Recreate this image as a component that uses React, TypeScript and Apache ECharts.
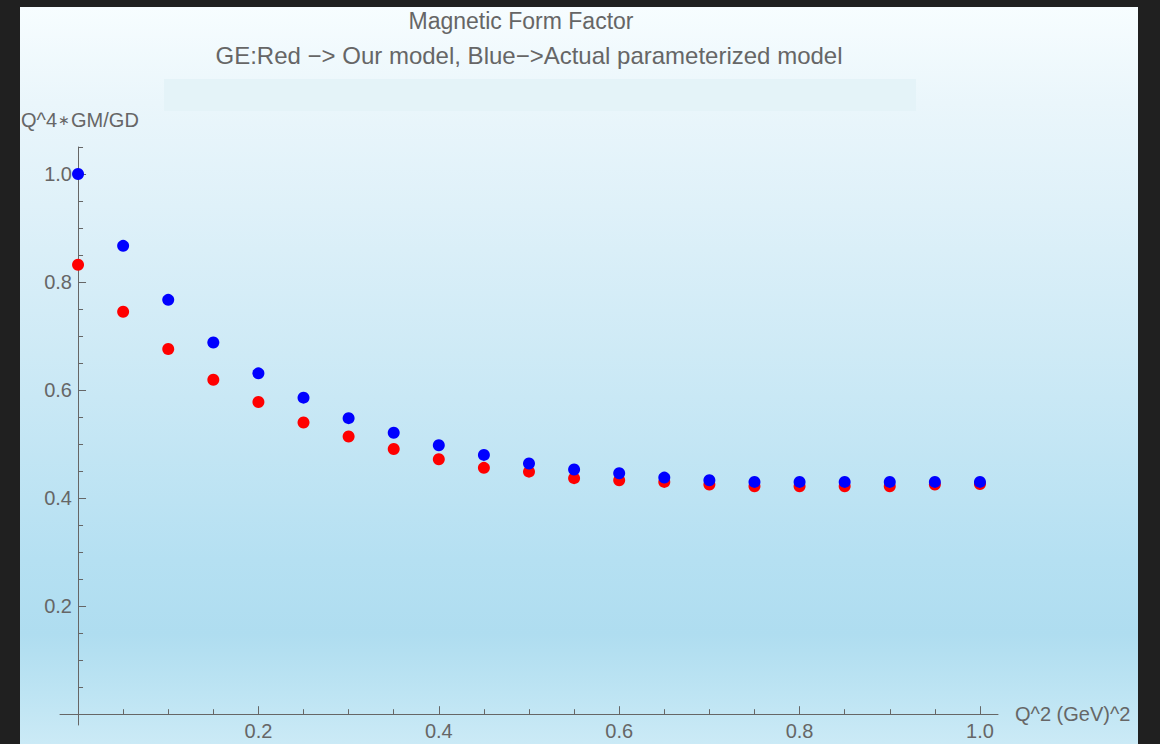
import { useEffect, useRef } from "react";
import * as echarts from "echarts";

const qSquared = [0, 0.05, 0.1, 0.15, 0.2, 0.25, 0.3, 0.35, 0.4, 0.45, 0.5, 0.55, 0.6, 0.65, 0.7, 0.75, 0.8, 0.85, 0.9, 0.95, 1.0];
const ourModel = [0.832, 0.745, 0.676, 0.619, 0.578, 0.540, 0.514, 0.491, 0.472, 0.456, 0.449, 0.437, 0.433, 0.430, 0.425, 0.422, 0.422, 0.422, 0.422, 0.425, 0.426];
const parameterized = [1.0, 0.867, 0.767, 0.688, 0.631, 0.586, 0.548, 0.521, 0.498, 0.480, 0.464, 0.453, 0.446, 0.438, 0.433, 0.430, 0.430, 0.430, 0.430, 0.430, 0.430];

const majorTicks = [0, 0.2, 0.4, 0.6, 0.8, 1.0];
const tickLabels = [0.2, 0.4, 0.6, 0.8, 1.0];
const minorTicksX = [0.05, 0.1, 0.15, 0.25, 0.3, 0.35, 0.45, 0.5, 0.55, 0.65, 0.7, 0.75, 0.85, 0.9, 0.95];
const minorTicksY = [0.05, 0.1, 0.15, 0.25, 0.3, 0.35, 0.45, 0.5, 0.55, 0.65, 0.7, 0.75, 0.85, 0.9, 0.95, 1.05];

const titleLine1 = "Magnetic Form Factor";
const titleLine2 = "GE:Red \u2212> Our model, Blue\u2212>Actual parameterized model";
const yNameParts = ["Q^4", "\u2217", "GM/GD"];
const xName = "Q^2 (GeV)^2";

const FONT = "Liberation Sans, Arial, Helvetica, sans-serif";
const GRAY = "#666666";

export default function App() {
  const ref = useRef<HTMLDivElement>(null);
  useEffect(() => {
    if (!ref.current) return;
    const chart = echarts.init(ref.current, null, { renderer: "svg" });
    const toPairs = (ys: number[]) => qSquared.map((x, i) => [x, ys[i]]);
    const axisCommon = {
      type: "value" as const,
      splitLine: { show: false },
    };
    chart.setOption({
      animation: false,
      backgroundColor: "#202020",
      textStyle: { fontFamily: FONT },
      grid: {
        left: 60,
        right: 162,
        top: 147,
        bottom: 19,
        containLabel: false,
        outerBoundsMode: "none",
      },
      graphic: [
        {
          type: "rect",
          z: -10,
          shape: { x: 20, y: 7, width: 1118, height: 737 },
          style: {
            fill: new echarts.graphic.LinearGradient(0, 0, 0, 1, [
              { offset: 0, color: "#f7fdff" },
              { offset: 0.13, color: "#eaf6fb" },
              { offset: 0.27, color: "#dff1f9" },
              { offset: 0.53, color: "#c9e8f5" },
              { offset: 0.75, color: "#b5e0f2" },
              { offset: 0.85, color: "#afddf0" },
              { offset: 0.93, color: "#bde4f3" },
              { offset: 1, color: "#cbeaf6" },
            ]),
          },
        },
        {
          type: "rect",
          z: -9,
          shape: { x: 164, y: 79, width: 752, height: 32 },
          style: { fill: "#e4f3f8" },
        },
        {
          type: "text",
          z: 5,
          x: 521,
          y: 21,
          style: {
            text: titleLine1,
            fill: GRAY,
            font: `23px ${FONT}`,
            textAlign: "center",
            textVerticalAlign: "middle",
          },
        },
        {
          type: "text",
          z: 5,
          x: 529,
          y: 55.5,
          style: {
            text: titleLine2,
            fill: GRAY,
            font: `24px ${FONT}`,
            textAlign: "center",
            textVerticalAlign: "middle",
          },
        },
        {
          type: "text",
          z: 5,
          x: 21,
          y: 120,
          style: {
            text: `{a|${yNameParts[0]}}{s|${yNameParts[1]}}{a|${yNameParts[2]}}`,
            fill: GRAY,
            textAlign: "left",
            textVerticalAlign: "middle",
            rich: {
              a: { fontSize: 20, fontFamily: FONT, fill: GRAY, color: GRAY },
              s: { fontSize: 14, fontFamily: FONT, fill: GRAY, color: GRAY, padding: [0, 1, 0, 1] },
            },
          },
        },
      ],
      xAxis: [
        {
          ...axisCommon,
          min: -0.02,
          max: 1.02,
          position: "bottom",
          name: xName,
          nameLocation: "end",
          nameGap: 17,
          nameTextStyle: { color: GRAY, fontSize: 20, fontFamily: FONT },
          axisLine: { show: true, onZero: true, onZeroAxisIndex: 0, lineStyle: { color: GRAY, width: 1 } },
          axisTick: { show: true, inside: true, length: 8, customValues: majorTicks, lineStyle: { color: GRAY, width: 1 } },
          axisLabel: {
            show: true,
            customValues: tickLabels,
            margin: -4,
            color: GRAY,
            fontSize: 20,
            fontFamily: FONT,
            formatter: (v: number) => v.toFixed(1),
          },
        },
        {
          ...axisCommon,
          min: -0.02,
          max: 1.02,
          position: "bottom",
          axisLine: { show: true, onZero: true, onZeroAxisIndex: 0, lineStyle: { color: GRAY, width: 1, opacity: 0 } },
          axisTick: { show: true, inside: true, length: 5, customValues: minorTicksX, lineStyle: { color: GRAY, width: 1 } },
          axisLabel: { show: false },
        },
      ],
      yAxis: [
        {
          ...axisCommon,
          min: -0.02,
          max: 1.05,
          position: "left",
          axisLine: { show: true, onZero: true, onZeroAxisIndex: 0, lineStyle: { color: GRAY, width: 1 } },
          axisTick: { show: true, inside: true, length: 8, customValues: majorTicks, lineStyle: { color: GRAY, width: 1 } },
          axisLabel: {
            show: true,
            customValues: tickLabels,
            margin: -12,
            color: GRAY,
            fontSize: 20,
            fontFamily: FONT,
            formatter: (v: number) => v.toFixed(1),
          },
        },
        {
          ...axisCommon,
          min: -0.02,
          max: 1.05,
          position: "left",
          axisLine: { show: true, onZero: true, onZeroAxisIndex: 0, lineStyle: { color: GRAY, width: 1, opacity: 0 } },
          axisTick: { show: true, inside: true, length: 5, customValues: minorTicksY, lineStyle: { color: GRAY, width: 1 } },
          axisLabel: { show: false },
        },
      ],
      series: [
        {
          name: "Our model",
          type: "scatter",
          xAxisIndex: 0,
          yAxisIndex: 0,
          symbol: "circle",
          symbolSize: 12,
          itemStyle: { color: "#ff0000", opacity: 1 },
          data: toPairs(ourModel),
          z: 3,
        },
        {
          name: "Actual parameterized model",
          type: "scatter",
          xAxisIndex: 0,
          yAxisIndex: 0,
          symbol: "circle",
          symbolSize: 12,
          itemStyle: { color: "#0000ff", opacity: 1 },
          data: toPairs(parameterized),
          z: 4,
        },
      ],
    });
    return () => chart.dispose();
  }, []);
  return (
    <div
      ref={ref}
      style={{ position: "fixed", left: 0, top: 0, width: 1160, height: 744 }}
    />
  );
}
